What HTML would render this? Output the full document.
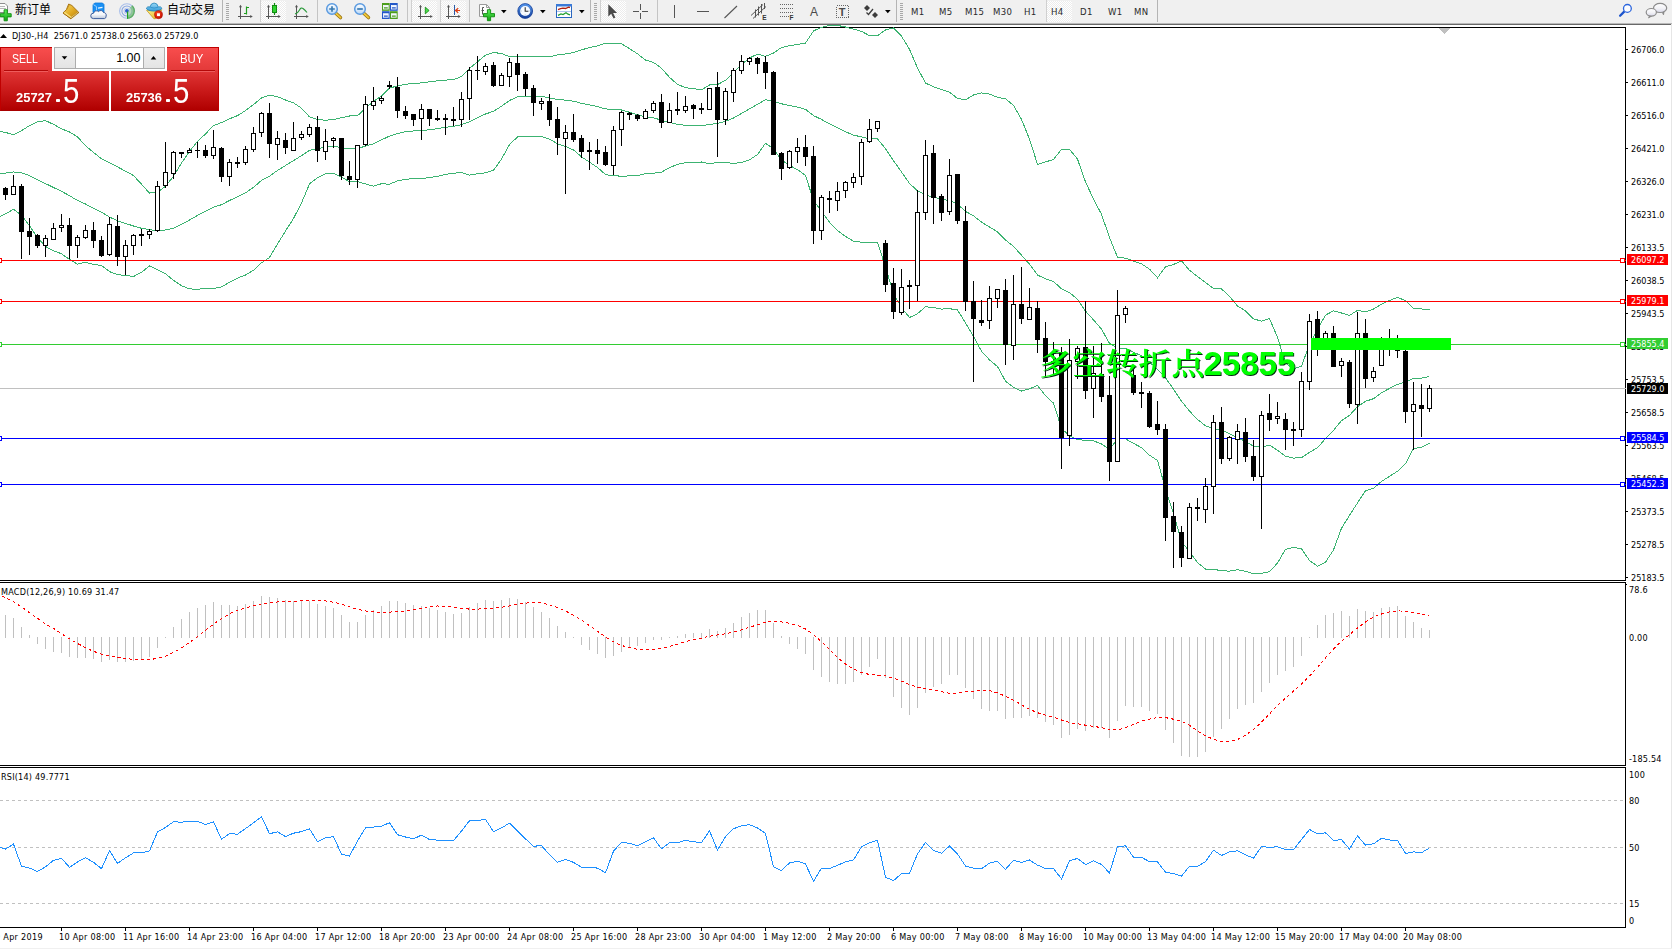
<!DOCTYPE html><html><head><meta charset="utf-8"><title>DJ30 H4</title><style>
html,body{margin:0;padding:0;background:#fff;}
body{width:1672px;height:949px;position:relative;overflow:hidden;font-family:"Liberation Sans","Noto Sans CJK SC",sans-serif;}
#tb{position:absolute;left:0;top:0;width:1672px;height:23px;background:#f0f0f0;}
#tbl1{position:absolute;left:0;top:23px;width:1672px;height:1px;background:#b9b9b9;}
#tbl2{position:absolute;left:0;top:24px;width:1671px;height:1px;background:#686868;}
.t{position:absolute;white-space:nowrap;line-height:1;}
.tf{position:absolute;top:6.5px;font-size:9.5px;color:#2a2a2a;white-space:nowrap;line-height:1;font-family:"DejaVu Sans Condensed","Liberation Sans",sans-serif;letter-spacing:.4px}
.cn{position:absolute;top:2px;font-size:12px;color:#000;white-space:nowrap;line-height:14px;font-family:"Noto Sans CJK SC","Liberation Sans",sans-serif;}
.sep{position:absolute;top:0px;width:1px;height:22px;background:#a0a0a0;}
.grip{position:absolute;top:3px;width:3px;height:17px;background:repeating-linear-gradient(#a8a8a8 0 1px,#f0f0f0 1px 2px);}
.hl{position:absolute;top:1px;height:21px;background:#f8f8f8;background-image:repeating-conic-gradient(#fff 0 25%,#ececec 0 50%);background-size:2px 2px;}
svg{position:absolute;left:0;top:0;}
.ax{font-size:9px;fill:#000;font-family:"DejaVu Sans Condensed","Liberation Sans",sans-serif;letter-spacing:.2px}
.pl{letter-spacing:0px}
#rb{position:absolute;left:1671px;top:24px;width:1px;height:925px;background:#e6e6e6;}
#bb{position:absolute;left:0;top:948px;width:1672px;height:1px;background:#f0f0f0;}

</style></head><body>
<div id="tb"></div><div id="tbl1"></div><div id="tbl2"></div><div id="rb"></div><div id="bb"></div>
<!-- toolbar text -->
<div class="cn" style="left:15px;">新订单</div>
<div class="cn" style="left:167px;">自动交易</div>
<div class="sep" style="left:222px;background:#b4b4b4"></div><div class="grip" style="left:226px"></div>
<div class="sep" style="left:260px;background:#d0d0d0"></div><div class="hl" style="left:261px;width:25px"></div>
<div class="sep" style="left:317px;background:#c4c4c4"></div>
<div class="sep" style="left:407px;background:#c4c4c4"></div>
<div class="sep" style="left:411px;background:#d0d0d0"></div><div class="hl" style="left:412px;width:25px"></div>
<div class="sep" style="left:440px;background:#d0d0d0"></div><div class="hl" style="left:441px;width:25px"></div>
<div class="sep" style="left:469px;background:#c4c4c4"></div>
<div class="sep" style="left:590px;background:#b4b4b4"></div><div class="grip" style="left:594px"></div>
<div class="sep" style="left:600px;background:#d0d0d0"></div><div class="hl" style="left:601px;width:25px"></div>
<div class="sep" style="left:657px;background:#c4c4c4"></div>
<div class="sep" style="left:896px;background:#b4b4b4"></div><div class="grip" style="left:900px"></div>
<div class="sep" style="left:1046px;background:#d0d0d0"></div><div class="hl" style="left:1047px;width:25px"></div>
<div class="sep" style="left:1157px;background:#b4b4b4"></div>
<div class="tf" style="left:911px">M1</div>
<div class="tf" style="left:939px">M5</div>
<div class="tf" style="left:965px">M15</div>
<div class="tf" style="left:993px">M30</div>
<div class="tf" style="left:1024px">H1</div>
<div class="tf" style="left:1051px">H4</div>
<div class="tf" style="left:1080px">D1</div>
<div class="tf" style="left:1108px">W1</div>
<div class="tf" style="left:1134px">MN</div>
<svg width="1672" height="25" viewBox="0 0 1672 25">
<defs>
<linearGradient id="gGold" x1="0" y1="0" x2="1" y2="1"><stop offset="0" stop-color="#f7dc6a"/><stop offset=".55" stop-color="#e0a820"/><stop offset="1" stop-color="#b07c10"/></linearGradient>
<linearGradient id="gLens" x1="0" y1="0" x2="0" y2="1"><stop offset="0" stop-color="#ffffff"/><stop offset="1" stop-color="#b8d8f8"/></linearGradient>
<linearGradient id="gClk" x1="0" y1="0" x2="0" y2="1"><stop offset="0" stop-color="#5a9cf0"/><stop offset="1" stop-color="#123c98"/></linearGradient>
<linearGradient id="gPlus" x1="0" y1="0" x2="0" y2="1"><stop offset="0" stop-color="#5cf05c"/><stop offset="1" stop-color="#10a010"/></linearGradient>
<linearGradient id="gHat" x1="0" y1="0" x2="0" y2="1"><stop offset="0" stop-color="#9ad8f6"/><stop offset="1" stop-color="#379cd8"/></linearGradient>
<linearGradient id="gCloud" x1="0" y1="0" x2="0" y2="1"><stop offset="0" stop-color="#ffffff"/><stop offset=".5" stop-color="#f4f6fa"/><stop offset="1" stop-color="#bcc8dc"/></linearGradient>
<linearGradient id="gBub" x1="0" y1="0" x2="0" y2="1"><stop offset="0" stop-color="#ffffff"/><stop offset=".55" stop-color="#f2f2f6"/><stop offset="1" stop-color="#d8d8ea"/></linearGradient>
<radialGradient id="gSig" cx="127" cy="11" r="8" gradientUnits="userSpaceOnUse"><stop offset="0" stop-color="#d8ecd8" stop-opacity=".7"/><stop offset=".6" stop-color="#8cc88c" stop-opacity=".85"/><stop offset="1" stop-color="#2a9a2a"/></radialGradient>
<linearGradient id="gFun" x1="0" y1="0" x2="1" y2="1"><stop offset="0" stop-color="#fdf08a"/><stop offset="1" stop-color="#e6b01c"/></linearGradient>
<radialGradient id="gRed" cx=".4" cy=".35" r=".7"><stop offset="0" stop-color="#ff4a20"/><stop offset="1" stop-color="#c40c00"/></radialGradient>
</defs>
<!-- new order -->
<g><path d="M-0.500 3.500h5.500l2.500 2.500v6.500h-8z" fill="#fdfdfd" stroke="#8e8e8e"/><path d="M0 6.500h5M0 8.500h6" stroke="#b8b8b8"/><path d="M4.400 10h3.200v3.900h3.900v3.200h-3.900v3.900h-3.200v-3.900h-3.900v-3.200h3.900z" transform="translate(-0.300,-0.200)" fill="url(#gPlus)" stroke="#0c8a0c" stroke-width=".9"/></g>
<!-- book -->
<g><path d="M68.700 4l3.200 1.500 6.900 6.900-7.900 6.300-7.900-5.800 3.400-3.200z" fill="url(#gGold)" stroke="#a06a08" stroke-width=".9"/><path d="M78.300 12.800l-7.300 5.600" stroke="#e8e0b0" stroke-width="1.600"/><path d="M78.800 12.400l-7.900 6.300-7.900-5.800" fill="none" stroke="#a06a08" stroke-width=".9"/><path d="M64.200 12.400l6.800 4.900" stroke="#f9e07a" stroke-width="1.300"/><path d="M69.200 5l-2.600 4.800" stroke="#c08a18" stroke-width=".8"/></g>
<!-- cloud server -->
<g><path d="M93 4.500l2-1.500h7.500l1.500 1.500v8h-11z" fill="#1a90f4" stroke="#0a78dc" stroke-width=".8"/><path d="M93.300 4.600l3.200 2v6" fill="none" stroke="#9fd4ff" stroke-width=".9"/><path d="M98 8.200l4.500-.9" stroke="#e8f6ff" stroke-width="1.200"/><path d="M93.300 18.600a2.700 2.700 0 0 1 .3-5.400a3 3 0 0 1 5-1.600a2.800 2.800 0 0 1 4.900 .9a2.700 2.700 0 0 1 2.600 3.600a2.300 2.300 0 0 1-1.600 2.500z" fill="url(#gCloud)" stroke="#3c5c9c" stroke-width="1"/></g>
<!-- signal -->
<g fill="none"><circle cx="126.900" cy="11" r="7.300" stroke="#a9bfea" stroke-width="1.100"/><circle cx="126.900" cy="11" r="5" stroke="#86a6e2" stroke-width="1.100"/><circle cx="126.900" cy="11" r="2.900" stroke="#b4c6ee" stroke-width=".9"/><path d="M127.200 11L132.300 5.200A7.800 7.800 0 0 1 127.200 18.800z" fill="url(#gSig)" stroke="none" opacity=".8"/><circle cx="126.900" cy="10.800" r="1.900" fill="#2a5ed0"/><path d="M127.600 11.500v7.300" stroke="#18a018" stroke-width="1.100"/></g>
<!-- autotrading -->
<g><path d="M146.600 10.300l15.200-.500-6.300 8.900h-1.600z" fill="url(#gFun)" stroke="#c89a1c" stroke-width=".8"/><path d="M146.300 8.200q1.200-2.200 3.700-1.200q.7-3.800 4.100-4q3.500.2 4.200 4q2.400-1 3.600 1.200q-1 2.700-7.800 2.900q-6.800-.2-7.800-2.900z" fill="url(#gHat)" stroke="#1f82b8" stroke-width=".8"/><path d="M150.300 7.300q3.800 1.500 7.700 0" fill="none" stroke="#2a8cc8" stroke-width=".8"/><circle cx="158.500" cy="14.700" r="4" fill="url(#gRed)" stroke="#a81000" stroke-width=".6"/><rect x="157.050" y="13.300" width="2.900" height="2.800" fill="#fff"/></g>
<!-- chart type icons -->
<g id="ax1" stroke="#555" fill="none" stroke-width="1"><path d="M240.500 5.500v13.500M238 16.500h12.500" shape-rendering="crispEdges"/><path d="M239 7.300l1.500-2.600 1.500 2.600zM250.200 15l2.600 1.500-2.600 1.500z" fill="#555" stroke="none"/></g>
<path d="M246.500 6.500v8M246.500 7.500h2.500M244 13.500h2.500" stroke="#1e9e1e" stroke-width="1.200" fill="none"/>
<g stroke="#555" fill="none" stroke-width="1"><path d="M268.500 5.500v13.500M266 16.500h12.500" shape-rendering="crispEdges"/><path d="M267 7.300l1.500-2.600 1.500 2.600zM278.200 15l2.600 1.500-2.600 1.500z" fill="#555" stroke="none"/></g>
<path d="M274.500 3v12" stroke="#148a14" stroke-width="1.200"/><rect x="272.500" y="5.500" width="4" height="7" fill="#2fd42f" stroke="#148a14"/>
<g stroke="#555" fill="none" stroke-width="1"><path d="M296.500 5.500v13.500M294 16.500h12.500" shape-rendering="crispEdges"/><path d="M295 7.300l1.500-2.600 1.500 2.600zM306.200 15l2.600 1.500-2.600 1.500z" fill="#555" stroke="none"/></g>
<path d="M295 14q3-1 4.500-4t3.500-1.500t4 4" stroke="#2a9a3a" stroke-width="1.100" fill="none"/>
<!-- zoom in/out -->
<g><path d="M335.500 13l5 4.600" stroke="#9a7410" stroke-width="3.400" stroke-linecap="round"/><path d="M335.500 13l5 4.600" stroke="#f0c83a" stroke-width="1.800" stroke-linecap="round"/><circle cx="332" cy="9" r="5.300" fill="url(#gLens)" stroke="#5a9ae0" stroke-width="1.500"/><path d="M329.200 9h5.600M332 6.200v5.600" stroke="#3a7ab0" stroke-width="1.700"/></g>
<g><path d="M363.500 13l5 4.600" stroke="#9a7410" stroke-width="3.400" stroke-linecap="round"/><path d="M363.500 13l5 4.600" stroke="#f0c83a" stroke-width="1.800" stroke-linecap="round"/><circle cx="360" cy="9" r="5.300" fill="url(#gLens)" stroke="#5a9ae0" stroke-width="1.500"/><path d="M357.200 9h5.600" stroke="#3a7ab0" stroke-width="1.700"/></g>
<!-- tile -->
<g><rect x="382" y="3" width="7.700" height="7.800" fill="#4c9e1c"/><rect x="390" y="3" width="7.700" height="7.800" fill="#2458c8"/><rect x="382" y="11.200" width="7.700" height="7.800" fill="#2458c8"/><rect x="390" y="11.200" width="7.700" height="7.800" fill="#4c9e1c"/><g fill="none" stroke="#f4f8ff" stroke-width=".9"><rect x="383.500" y="5.500" width="4.700" height="3.500"/><rect x="391.500" y="5.500" width="4.700" height="3.500"/><rect x="383.500" y="13.700" width="4.700" height="3.500"/><rect x="391.500" y="13.700" width="4.700" height="3.500"/></g><path d="M383.500 6.500h4.700M391.500 6.500h4.700M383.500 14.700h4.700M391.500 14.700h4.700" stroke="#f4f8ff" stroke-width="1.400"/></g>
<!-- auto scroll / shift -->
<g stroke="#555" fill="none" stroke-width="1"><path d="M420.500 5.500v13.500M418 16.500h12.500" shape-rendering="crispEdges"/><path d="M419 7.300l1.500-2.600 1.500 2.600zM430.200 15l2.600 1.500-2.600 1.500z" fill="#555" stroke="none"/></g>
<path d="M425.300 7.200l3.800 3.300-3.800 3.300z" fill="#4ade4a" stroke="#189018" stroke-width=".9"/>
<g stroke="#555" fill="none" stroke-width="1"><path d="M448.500 5.500v13.500M446 16.500h12.500" shape-rendering="crispEdges"/><path d="M447 7.300l1.500-2.600 1.500 2.600zM458.200 15l2.600 1.500-2.600 1.500z" fill="#555" stroke="none"/><path d="M454.500 5v10" stroke="#2a5aa8" shape-rendering="crispEdges"/></g>
<path d="M460 10.500h-4M458.200 8.300l-2.700 2.200 2.700 2.200" fill="none" stroke="#e03c10" stroke-width="1.100"/>
<!-- indicators -->
<g><path d="M479.500 4.500h7l3 3v9h-10z" fill="#fdfdfd" stroke="#9a9a9a"/><path d="M486.500 4.500v3h3" fill="none" stroke="#9a9a9a"/><path d="M482.500 7.500v7M482.500 7.500h1.500M481.500 10.500h2.500" stroke="#555" fill="none"/><path d="M4.400 10h3.200v3.900h3.900v3.200h-3.900v3.900h-3.200v-3.900h-3.900v-3.200h3.900z" transform="translate(483,-0.300)" fill="url(#gPlus)" stroke="#0c8a0c" stroke-width=".9"/><path d="M501 10h5.600l-2.800 3.200z" fill="#000"/></g>
<!-- clock -->
<g><circle cx="525.200" cy="11" r="7.400" fill="url(#gClk)" stroke="#123c98" stroke-width=".8"/><circle cx="525.200" cy="11" r="5.100" fill="#f7faff"/><path d="M525.200 7.300v4h3.200" stroke="#333" fill="none" stroke-width="1.100"/><path d="M525.200 14.500v1M521.700 11h-1M529.700 11h-1" stroke="#9ab" stroke-width=".8"/><path d="M540 10h5.600l-2.800 3.200z" fill="#000"/></g>
<!-- template -->
<g><rect x="556.500" y="4.500" width="15" height="13" fill="#fff" stroke="#2a66c0"/><rect x="556" y="4" width="16" height="2.500" fill="#3a7ad8"/><path d="M557 11.500h14" stroke="#9ab8e8" stroke-width=".8"/><path d="M558 9.700l2.500-1 2.500-.6 2.500.4 3-1.300 1.500.3" stroke="#b02010" fill="none" stroke-width="1.300"/><path d="M558 15.300l3-1.300 2 .6 3-1.800 2 1.400 2 .6" stroke="#20a030" fill="none" stroke-width="1.300"/><path d="M579 10h5.600l-2.800 3.200z" fill="#000"/></g>
<!-- cursor -->
<path d="M608.300 4.300v12.200l2.900-2.700 2.300 4.700 1.900-.9-2.300-4.600h4z" fill="#4a4a4a"/>
<path d="M640.500 4v6M640.500 13v6M633 11.500h6M642 11.500h6" stroke="#555" stroke-width="1" shape-rendering="crispEdges"/>
<path d="M674.500 5v13M697 11.500h12" stroke="#555" stroke-width="1" shape-rendering="crispEdges"/>
<path d="M724.500 18l12.500-12" stroke="#555" stroke-width="1.100"/>
<g stroke="#555" stroke-width="1" fill="none"><path d="M751 15.500l12-11M753 18.500l13-12M755.500 9.500v8M758.500 6.500v9M761.500 4v9.500M764.500 3v6"/></g>
<text x="762.200" y="20" font-size="6.500" font-weight="bold" fill="#333" font-family="Liberation Sans,sans-serif">E</text>
<g stroke="#666" stroke-width="1" stroke-dasharray="1 1" shape-rendering="crispEdges"><path d="M780 4.500h13M780 8.500h13M780 12.500h13M780 16.500h9"/></g>
<text x="789.500" y="20" font-size="6.500" font-weight="bold" fill="#333" font-family="Liberation Sans,sans-serif">F</text>
<text x="810" y="16" font-size="12" fill="#4a4a4a" font-family="Liberation Sans,sans-serif">A</text>
<rect x="836.500" y="5.500" width="12" height="12" fill="none" stroke="#666" stroke-dasharray="1 1" shape-rendering="crispEdges"/>
<text x="838.800" y="16" font-size="11" font-weight="bold" fill="#4a4a4a" font-family="Liberation Sans,sans-serif">T</text>
<g fill="#3c3c3c"><path d="M864 8l3-3 3 3-3 3z"/><path d="M872 15l3-3 3 3-3 3z"/><path d="M866.500 12.500l2 2 4.500-5.500" stroke="#3c3c3c" fill="none" stroke-width="1.300"/></g>
<path d="M885 10h5.600l-2.800 3.200z" fill="#000"/>
<!-- search -->
<g><path d="M1624.200 11.600l-4.100 4.100" stroke="#1c54cc" stroke-width="2.300" stroke-linecap="round"/><circle cx="1627.400" cy="8.400" r="3.900" fill="#fbfcff" stroke="#2a64dc" stroke-width="1.300"/></g>
<!-- chat -->
<g stroke="#8c8c8c" stroke-width="1.200"><path d="M1662.300 12.300l1.200 2.600.600-3.200z" fill="#777" stroke-width=".8"/><ellipse cx="1660.100" cy="7.900" rx="6.600" ry="4.600" fill="url(#gBub)"/><path d="M1649.800 15.300l-1.300 2.700 3.200-2z" fill="#777" stroke-width=".8"/><ellipse cx="1651.300" cy="12.300" rx="5.100" ry="3.800" fill="url(#gBub)"/></g>
</svg>

<svg width="1672" height="949" viewBox="0 0 1672 949">
<g shape-rendering="crispEdges" stroke="#000" stroke-width="1" fill="none">
<path d="M0 27.5H1626M1625.5 27V581M0 580.5H1626M0 582.5H1626M1625.5 582V766M0 765.5H1626M0 767.5H1626M1625.5 767V928M0 927.5H1626"/>
<path d="M1626 49.5H1628M1626 82.5H1628M1626 115.5H1628M1626 148.5H1628M1626 181.5H1628M1626 214.5H1628M1626 247.5H1628M1626 280.5H1628M1626 313.5H1628M1626 346.5H1628M1626 379.5H1628M1626 412.5H1628M1626 445.5H1628M1626 478.5H1628M1626 511.5H1628M1626 544.5H1628M1626 577.5H1628M1626 584.5H1627M61.5 928V931M125.5 928V931M189.5 928V931M253.5 928V931M317.5 928V931M381.5 928V931M445.5 928V931M509.5 928V931M573.5 928V931M637.5 928V931M701.5 928V931M765.5 928V931M829.5 928V931M893.5 928V931M957.5 928V931M1021.5 928V931M1085.5 928V931M1149.5 928V931M1213.5 928V931M1277.5 928V931M1341.5 928V931M1405.5 928V931"/>
</g>
<path shape-rendering="crispEdges" d="M0 388.5H1626" stroke="#c0c0c0" stroke-width="1"/>
<path shape-rendering="crispEdges" d="M0 800.5H1625" stroke="#c0c0c0" stroke-width="1" stroke-dasharray="3 3"/>
<path shape-rendering="crispEdges" d="M0 847.5H1625" stroke="#c0c0c0" stroke-width="1" stroke-dasharray="3 3"/>
<path shape-rendering="crispEdges" d="M0 903.5H1625" stroke="#c0c0c0" stroke-width="1" stroke-dasharray="3 3"/>
<path shape-rendering="crispEdges" d="M5.5 615V638M13.5 618V638M21.5 627V638M29.5 635V638M37.5 637V644M45.5 637V649M53.5 637V652M61.5 637V653M69.5 637V657M77.5 637V658M85.5 637V658M93.5 637V659M101.5 637V662M109.5 637V660M117.5 637V662M125.5 637V662M133.5 637V661M141.5 637V659M149.5 637V657M157.5 637V648M165.5 637V638M173.5 627V638M181.5 619V638M189.5 612V638M197.5 608V638M205.5 605V638M213.5 602V638M221.5 605V638M229.5 605V638M237.5 606V638M245.5 604V638M253.5 601V638M261.5 596V638M269.5 597V638M277.5 598V638M285.5 600V638M293.5 601V638M301.5 601V638M309.5 601V638M317.5 604V638M325.5 606V638M333.5 608V638M341.5 615V638M349.5 622V638M357.5 622V638M365.5 615V638M373.5 610V638M381.5 606V638M389.5 601V638M397.5 601V638M405.5 603V638M413.5 605V638M421.5 606V638M429.5 608V638M437.5 610V638M445.5 612V638M453.5 614V638M461.5 613V638M469.5 607V638M477.5 603V638M485.5 600V638M493.5 601V638M501.5 600V638M509.5 598V638M517.5 599V638M525.5 602V638M533.5 607V638M541.5 612V638M549.5 618V638M557.5 626V638M565.5 632V638M573.5 637V638M581.5 637V645M589.5 637V650M597.5 637V654M605.5 637V658M613.5 637V656M621.5 637V652M629.5 637V648M637.5 637V646M645.5 637V643M653.5 637V640M661.5 637V640M669.5 637V638M677.5 636V638M685.5 634V638M693.5 633V638M701.5 633V638M709.5 629V638M717.5 631V638M725.5 628V638M733.5 623V638M741.5 617V638M749.5 613V638M757.5 610V638M765.5 610V638M773.5 623V638M781.5 636V638M789.5 637V644M797.5 637V649M805.5 637V654M813.5 637V670M821.5 637V677M829.5 637V682M837.5 637V684M845.5 637V684M853.5 637V682M861.5 637V675M869.5 637V667M877.5 637V659M885.5 637V678M893.5 637V697M901.5 637V708M909.5 637V715M917.5 637V708M925.5 637V693M933.5 637V687M941.5 637V684M949.5 637V675M957.5 637V675M965.5 637V688M973.5 637V699M981.5 637V709M989.5 637V711M997.5 637V711M1005.5 637V719M1013.5 637V718M1021.5 637V718M1029.5 637V716M1037.5 637V718M1045.5 637V722M1053.5 637V725M1061.5 637V738M1069.5 637V735M1077.5 637V729M1085.5 637V731M1093.5 637V728M1101.5 637V728M1109.5 637V738M1117.5 637V721M1125.5 637V706M1133.5 637V707M1141.5 637V707M1149.5 637V711M1157.5 637V714M1165.5 637V730M1173.5 637V743M1181.5 637V756M1189.5 637V757M1197.5 637V757M1205.5 637V752M1213.5 637V737M1221.5 637V729M1229.5 637V719M1237.5 637V709M1245.5 637V705M1253.5 637V703M1261.5 637V692M1269.5 637V683M1277.5 637V675M1285.5 637V671M1293.5 637V667M1301.5 637V656M1309.5 637V638M1317.5 625V638M1325.5 615V638M1333.5 613V638M1341.5 611V638M1349.5 616V638M1357.5 609V638M1365.5 611V638M1373.5 612V638M1381.5 608V638M1389.5 607V638M1397.5 606V638M1405.5 616V638M1413.5 622V638M1421.5 628V638M1429.5 630V638" stroke="#c0c0c0" stroke-width="1"/>
<polyline points="-3.5,593.6 5.5,597.6 13.5,601.9 21.5,606.9 29.5,612.7 37.5,618.2 45.5,624.0 53.5,628.3 61.5,633.8 69.5,638.8 77.5,643.4 85.5,647.8 93.5,651.3 101.5,654.2 109.5,655.9 117.5,657.3 125.5,658.5 133.5,659.4 141.5,659.7 149.5,659.6 157.5,658.4 165.5,656.1 173.5,652.3 181.5,647.9 189.5,642.4 197.5,636.5 205.5,630.4 213.5,624.1 221.5,618.5 229.5,613.8 237.5,610.3 245.5,607.8 253.5,605.8 261.5,603.9 269.5,602.8 277.5,602.0 285.5,601.7 293.5,601.3 301.5,600.9 309.5,600.3 317.5,600.3 325.5,600.9 333.5,602.2 341.5,604.2 349.5,606.9 357.5,609.3 365.5,610.9 373.5,611.9 381.5,612.5 389.5,612.1 397.5,611.5 405.5,611.0 413.5,609.9 421.5,608.1 429.5,606.6 437.5,606.0 445.5,606.2 453.5,607.1 461.5,608.4 469.5,609.1 477.5,609.1 485.5,608.6 493.5,608.0 501.5,607.2 509.5,605.9 517.5,604.4 525.5,603.1 533.5,602.5 541.5,603.0 549.5,604.7 557.5,607.6 565.5,611.0 573.5,615.1 581.5,620.2 589.5,625.7 597.5,631.3 605.5,636.9 613.5,641.8 621.5,645.4 629.5,647.8 637.5,649.3 645.5,649.8 653.5,649.3 661.5,648.2 669.5,646.5 677.5,644.1 685.5,641.7 693.5,639.8 701.5,638.1 709.5,636.3 717.5,635.0 725.5,633.8 733.5,632.0 741.5,629.8 749.5,627.3 757.5,624.7 765.5,622.1 773.5,621.1 781.5,621.9 789.5,623.3 797.5,625.5 805.5,628.9 813.5,634.6 821.5,641.6 829.5,649.4 837.5,657.5 845.5,664.1 853.5,669.1 861.5,672.5 869.5,674.5 877.5,675.0 885.5,675.9 893.5,678.2 901.5,681.1 909.5,684.5 917.5,687.2 925.5,688.4 933.5,689.7 941.5,691.6 949.5,693.4 957.5,693.0 965.5,692.0 973.5,691.1 981.5,690.4 989.5,690.7 997.5,692.8 1005.5,696.3 1013.5,700.1 1021.5,704.8 1029.5,709.3 1037.5,712.7 1045.5,715.2 1053.5,717.0 1061.5,720.0 1069.5,722.6 1077.5,723.7 1085.5,725.2 1093.5,726.3 1101.5,727.7 1109.5,729.9 1117.5,729.8 1125.5,727.8 1133.5,724.3 1141.5,721.2 1149.5,719.2 1157.5,717.4 1165.5,717.6 1173.5,719.2 1181.5,721.2 1189.5,725.2 1197.5,730.9 1205.5,735.9 1213.5,739.3 1221.5,741.3 1229.5,741.8 1237.5,739.5 1245.5,735.3 1253.5,729.4 1261.5,722.2 1269.5,713.9 1277.5,705.4 1285.5,698.1 1293.5,691.1 1301.5,684.1 1309.5,676.2 1317.5,667.5 1325.5,657.8 1333.5,649.1 1341.5,641.2 1349.5,634.7 1357.5,627.9 1365.5,621.9 1373.5,617.1 1381.5,614.0 1389.5,611.9 1397.5,610.9 1405.5,611.2 1413.5,612.5 1421.5,613.9 1429.5,616.2" fill="none" stroke="#ff0000" stroke-width="1" stroke-dasharray="3 3" shape-rendering="crispEdges"/>
<polyline points="-3.5,846.5 5.5,849.0 13.5,844.1 21.5,866.3 29.5,868.1 37.5,871.5 45.5,866.8 53.5,860.3 61.5,858.4 69.5,867.3 77.5,862.0 85.5,857.6 93.5,862.3 101.5,868.7 109.5,850.6 117.5,863.3 125.5,857.8 133.5,852.9 141.5,852.9 149.5,850.9 157.5,832.0 165.5,827.5 173.5,821.7 181.5,822.2 189.5,821.3 197.5,821.3 205.5,824.6 213.5,821.7 221.5,839.3 229.5,833.6 237.5,834.2 245.5,828.6 253.5,822.9 261.5,816.8 269.5,833.7 277.5,831.9 285.5,836.6 293.5,833.2 301.5,831.6 309.5,828.9 317.5,841.7 325.5,837.9 333.5,836.6 341.5,854.3 349.5,856.0 357.5,841.1 365.5,827.9 373.5,827.1 381.5,826.2 389.5,822.7 397.5,834.7 405.5,837.0 413.5,838.9 421.5,835.1 429.5,839.6 437.5,840.1 445.5,840.1 453.5,840.7 461.5,831.1 469.5,820.7 477.5,820.7 485.5,819.3 493.5,831.8 501.5,827.9 509.5,823.1 517.5,830.8 525.5,838.9 533.5,846.2 541.5,845.7 549.5,854.7 557.5,862.3 565.5,859.4 573.5,862.4 581.5,867.3 589.5,867.3 597.5,868.1 605.5,872.7 613.5,851.1 621.5,842.3 629.5,843.4 637.5,845.6 645.5,841.9 653.5,837.9 661.5,848.8 669.5,842.6 677.5,842.6 685.5,840.4 693.5,841.8 701.5,842.5 709.5,830.9 717.5,850.0 725.5,836.7 733.5,828.8 741.5,825.7 749.5,824.7 757.5,827.9 765.5,833.5 773.5,866.9 781.5,870.6 789.5,862.9 797.5,861.2 805.5,864.0 813.5,881.3 821.5,868.1 829.5,868.5 837.5,865.4 845.5,861.8 853.5,859.8 861.5,846.9 869.5,842.8 877.5,840.2 885.5,877.2 893.5,880.7 901.5,873.6 909.5,873.3 917.5,853.9 925.5,842.5 933.5,850.6 941.5,853.2 949.5,846.0 957.5,854.1 965.5,866.0 973.5,868.2 981.5,868.7 989.5,863.2 997.5,861.2 1005.5,869.3 1013.5,860.3 1021.5,862.5 1029.5,860.0 1037.5,865.1 1045.5,868.5 1053.5,868.6 1061.5,878.8 1069.5,860.9 1077.5,858.4 1085.5,864.6 1093.5,860.9 1101.5,864.4 1109.5,873.0 1117.5,846.8 1125.5,845.8 1133.5,857.3 1141.5,857.4 1149.5,861.6 1157.5,862.0 1165.5,872.1 1173.5,873.6 1181.5,876.2 1189.5,866.1 1197.5,866.2 1205.5,861.8 1213.5,850.1 1221.5,855.5 1229.5,851.8 1237.5,850.8 1245.5,854.9 1253.5,858.1 1261.5,846.6 1269.5,847.3 1277.5,846.8 1285.5,849.4 1293.5,849.6 1301.5,839.5 1309.5,829.5 1317.5,833.9 1325.5,832.8 1333.5,840.6 1341.5,839.6 1349.5,849.0 1357.5,835.9 1365.5,845.1 1373.5,843.8 1381.5,838.4 1389.5,840.0 1397.5,840.4 1405.5,853.4 1413.5,851.9 1421.5,852.7 1429.5,847.9" fill="none" stroke="#1e90ff" stroke-width="1" shape-rendering="crispEdges"/>
<polyline points="-3.5,130.4 5.5,132.5 13.5,134.6 21.5,130.6 29.5,125.7 37.5,121.8 45.5,120.7 53.5,124.3 61.5,128.8 69.5,132.0 77.5,136.9 85.5,145.7 93.5,152.5 101.5,158.7 109.5,162.6 117.5,166.8 125.5,171.3 133.5,175.5 141.5,184.2 149.5,193.1 157.5,192.3 165.5,186.3 173.5,176.2 181.5,163.1 189.5,151.3 197.5,141.5 205.5,133.9 213.5,125.6 221.5,122.6 229.5,118.8 237.5,115.6 245.5,110.6 253.5,104.6 261.5,97.9 269.5,95.1 277.5,96.7 285.5,100.0 293.5,102.8 301.5,108.2 309.5,116.9 317.5,119.6 325.5,120.2 333.5,119.5 341.5,117.7 349.5,116.0 357.5,115.7 365.5,108.3 373.5,101.4 381.5,96.1 389.5,88.0 397.5,86.0 405.5,84.3 413.5,83.4 421.5,82.9 429.5,81.8 437.5,80.8 445.5,80.1 453.5,79.5 461.5,76.6 469.5,68.4 477.5,61.8 485.5,55.1 493.5,52.4 501.5,53.6 509.5,56.5 517.5,56.9 525.5,56.1 533.5,56.1 541.5,56.2 549.5,56.8 557.5,54.9 565.5,53.9 573.5,52.5 581.5,49.8 589.5,47.7 597.5,45.8 605.5,43.2 613.5,43.1 621.5,43.9 629.5,48.6 637.5,53.8 645.5,60.1 653.5,62.4 661.5,68.2 669.5,77.4 677.5,84.3 685.5,87.7 693.5,88.7 701.5,89.9 709.5,85.0 717.5,84.5 725.5,80.4 733.5,72.5 741.5,64.6 749.5,57.9 757.5,54.2 765.5,56.3 773.5,53.0 781.5,47.5 789.5,45.7 797.5,44.5 805.5,43.1 813.5,30.9 821.5,27.4 829.5,25.5 837.5,25.4 845.5,27.0 853.5,29.1 861.5,31.4 869.5,35.6 877.5,35.8 885.5,29.9 893.5,27.8 901.5,36.2 909.5,49.2 917.5,67.9 925.5,83.1 933.5,86.8 941.5,89.5 949.5,92.3 957.5,98.4 965.5,99.9 973.5,95.0 981.5,92.9 989.5,94.1 997.5,97.3 1005.5,98.8 1013.5,105.4 1021.5,119.3 1029.5,139.2 1037.5,164.4 1045.5,161.9 1053.5,159.6 1061.5,149.2 1069.5,149.4 1077.5,159.1 1085.5,181.9 1093.5,199.0 1101.5,214.3 1109.5,237.5 1117.5,257.2 1125.5,258.2 1133.5,261.0 1141.5,263.9 1149.5,269.1 1157.5,277.8 1165.5,266.7 1173.5,264.5 1181.5,260.8 1189.5,270.3 1197.5,276.5 1205.5,282.5 1213.5,288.4 1221.5,288.9 1229.5,296.3 1237.5,306.0 1245.5,310.9 1253.5,318.9 1261.5,321.1 1269.5,318.6 1277.5,337.4 1285.5,363.1 1293.5,368.8 1301.5,366.3 1309.5,344.1 1317.5,329.5 1325.5,315.1 1333.5,310.9 1341.5,313.0 1349.5,315.4 1357.5,310.4 1365.5,311.8 1373.5,309.0 1381.5,304.3 1389.5,300.5 1397.5,297.4 1405.5,300.6 1413.5,308.5 1421.5,308.9 1429.5,309.8" fill="none" stroke="#3cb371" stroke-width="1" shape-rendering="crispEdges"/>
<polyline points="-3.5,174.2 5.5,173.1 13.5,172.0 21.5,172.8 29.5,175.7 37.5,179.7 45.5,183.6 53.5,187.5 61.5,191.3 69.5,195.7 77.5,200.5 85.5,204.0 93.5,208.4 101.5,212.1 109.5,217.1 117.5,220.7 125.5,223.4 133.5,226.0 141.5,228.3 149.5,229.5 157.5,231.1 165.5,230.0 173.5,228.3 181.5,224.4 189.5,220.1 197.5,215.4 205.5,211.2 213.5,207.1 221.5,204.7 229.5,200.5 237.5,196.9 245.5,192.8 253.5,187.4 261.5,180.4 269.5,176.3 277.5,170.4 285.5,165.5 293.5,160.7 301.5,155.6 309.5,150.4 317.5,148.6 325.5,147.1 333.5,146.3 341.5,147.5 349.5,148.9 357.5,148.6 365.5,146.1 373.5,143.8 381.5,139.9 389.5,136.1 397.5,133.5 405.5,131.7 413.5,131.0 421.5,130.9 429.5,129.6 437.5,128.7 445.5,127.3 453.5,126.3 461.5,124.6 469.5,121.7 477.5,117.8 485.5,114.0 493.5,111.3 501.5,106.3 509.5,100.5 517.5,96.9 525.5,96.1 533.5,96.2 541.5,96.3 549.5,98.0 557.5,99.4 565.5,100.2 573.5,101.2 581.5,103.3 589.5,104.9 597.5,106.6 605.5,108.9 613.5,109.4 621.5,110.0 629.5,112.3 637.5,114.6 645.5,116.9 653.5,117.8 661.5,120.2 669.5,122.5 677.5,124.4 685.5,125.3 693.5,125.5 701.5,126.0 709.5,124.4 717.5,123.5 725.5,121.4 733.5,118.0 741.5,113.5 749.5,108.9 757.5,104.3 765.5,99.7 773.5,101.0 781.5,103.8 789.5,105.6 797.5,107.1 805.5,109.3 813.5,115.6 821.5,119.4 829.5,123.9 837.5,127.9 845.5,131.7 853.5,135.2 861.5,136.8 869.5,138.9 877.5,139.0 885.5,148.6 893.5,160.7 901.5,172.0 909.5,183.4 917.5,190.8 925.5,195.0 933.5,197.1 941.5,199.3 949.5,200.5 957.5,204.1 965.5,211.4 973.5,215.8 981.5,222.1 989.5,227.0 997.5,231.9 1005.5,240.0 1013.5,246.4 1021.5,255.2 1029.5,264.1 1037.5,275.0 1045.5,278.8 1053.5,281.4 1061.5,288.9 1069.5,292.6 1077.5,299.3 1085.5,311.1 1093.5,319.9 1101.5,329.1 1109.5,343.4 1117.5,348.1 1125.5,348.5 1133.5,352.2 1141.5,355.8 1149.5,362.1 1157.5,369.2 1165.5,377.8 1173.5,389.1 1181.5,401.1 1189.5,411.1 1197.5,419.5 1205.5,425.8 1213.5,428.8 1221.5,429.9 1229.5,433.7 1237.5,437.9 1245.5,441.2 1253.5,446.3 1261.5,447.3 1269.5,445.2 1277.5,450.2 1285.5,456.3 1293.5,458.1 1301.5,457.6 1309.5,452.3 1317.5,447.8 1325.5,438.6 1333.5,430.4 1341.5,420.6 1349.5,415.4 1357.5,406.6 1365.5,401.3 1373.5,398.7 1381.5,392.8 1389.5,388.4 1397.5,384.4 1405.5,382.1 1413.5,378.5 1421.5,378.2 1429.5,376.6" fill="none" stroke="#3cb371" stroke-width="1" shape-rendering="crispEdges"/>
<polyline points="-3.5,218.0 5.5,213.7 13.5,209.4 21.5,215.0 29.5,225.7 37.5,237.6 45.5,246.5 53.5,250.7 61.5,253.8 69.5,259.4 77.5,264.1 85.5,262.3 93.5,264.3 101.5,265.5 109.5,271.6 117.5,274.6 125.5,275.5 133.5,276.5 141.5,272.4 149.5,265.9 157.5,269.9 165.5,273.7 173.5,280.4 181.5,285.7 189.5,288.9 197.5,289.2 205.5,288.5 213.5,288.7 221.5,286.8 229.5,282.3 237.5,278.1 245.5,275.0 253.5,270.3 261.5,262.8 269.5,257.5 277.5,244.1 285.5,231.0 293.5,218.5 301.5,203.0 309.5,183.9 317.5,177.6 325.5,173.9 333.5,173.2 341.5,177.2 349.5,181.8 357.5,181.6 365.5,183.9 373.5,186.2 381.5,183.7 389.5,184.2 397.5,180.9 405.5,179.2 413.5,178.7 421.5,178.8 429.5,177.4 437.5,176.5 445.5,174.4 453.5,173.2 461.5,172.6 469.5,175.1 477.5,173.7 485.5,172.9 493.5,170.3 501.5,159.1 509.5,144.5 517.5,137.0 525.5,136.2 533.5,136.3 541.5,136.5 549.5,139.2 557.5,143.8 565.5,146.5 573.5,149.9 581.5,156.8 589.5,162.2 597.5,167.5 605.5,174.6 613.5,175.7 621.5,176.2 629.5,175.9 637.5,175.5 645.5,173.7 653.5,173.2 661.5,172.1 669.5,167.7 677.5,164.4 685.5,162.8 693.5,162.4 701.5,162.0 709.5,163.8 717.5,162.5 725.5,162.5 733.5,163.5 741.5,162.4 749.5,159.8 757.5,154.5 765.5,143.2 773.5,148.9 781.5,160.0 789.5,165.5 797.5,169.6 805.5,175.5 813.5,200.4 821.5,211.4 829.5,222.2 837.5,230.4 845.5,236.4 853.5,241.2 861.5,242.2 869.5,242.1 877.5,242.1 885.5,267.3 893.5,293.5 901.5,307.7 909.5,317.5 917.5,313.7 925.5,306.8 933.5,307.4 941.5,309.1 949.5,308.7 957.5,309.9 965.5,322.9 973.5,336.6 981.5,351.2 989.5,359.9 997.5,366.5 1005.5,381.2 1013.5,387.3 1021.5,391.0 1029.5,388.9 1037.5,385.5 1045.5,395.7 1053.5,403.1 1061.5,428.5 1069.5,435.7 1077.5,439.6 1085.5,440.3 1093.5,440.8 1101.5,443.9 1109.5,449.3 1117.5,439.1 1125.5,438.8 1133.5,443.4 1141.5,447.6 1149.5,455.2 1157.5,460.5 1165.5,488.9 1173.5,513.8 1181.5,541.4 1189.5,551.9 1197.5,562.6 1205.5,569.1 1213.5,569.2 1221.5,570.8 1229.5,571.1 1237.5,569.7 1245.5,571.4 1253.5,573.7 1261.5,573.4 1269.5,571.7 1277.5,563.0 1285.5,549.4 1293.5,547.5 1301.5,548.8 1309.5,560.5 1317.5,566.2 1325.5,562.2 1333.5,549.9 1341.5,528.2 1349.5,515.4 1357.5,502.9 1365.5,490.7 1373.5,488.4 1381.5,481.4 1389.5,476.3 1397.5,471.3 1405.5,463.6 1413.5,448.5 1421.5,447.4 1429.5,443.4" fill="none" stroke="#3cb371" stroke-width="1" shape-rendering="crispEdges"/>
<path shape-rendering="crispEdges" d="M0 260.5H1626" stroke="#ff0000" stroke-width="1"/>
<path shape-rendering="crispEdges" d="M0 301.5H1626" stroke="#ff0000" stroke-width="1"/>
<path shape-rendering="crispEdges" d="M0 344.5H1626" stroke="#32cd32" stroke-width="1"/>
<path shape-rendering="crispEdges" d="M0 438.5H1626" stroke="#0000ff" stroke-width="1"/>
<path shape-rendering="crispEdges" d="M0 484.5H1626" stroke="#0000ff" stroke-width="1"/>
<g shape-rendering="crispEdges">
<path d="M5.5 187V188M5.5 195V200M13.5 175V186M21.5 184V186M21.5 232V259M29.5 218V231M29.5 237V255M37.5 234V235M37.5 246V248M45.5 235V238M45.5 246V257M53.5 223V228M61.5 214V225M61.5 228V232M69.5 218V225M69.5 246V259M77.5 235V237M77.5 246V258M85.5 225V230M85.5 238V239M93.5 222V230M93.5 241V248M101.5 236V240M101.5 256V257M109.5 217V224M109.5 255V256M117.5 215V226M117.5 257V266M125.5 240V245M125.5 257V275M133.5 234V235M133.5 246V255M141.5 229V234M141.5 236V246M149.5 229V231M149.5 235V239M157.5 181V186M157.5 231V232M165.5 142V172M165.5 186V188M173.5 151V152M173.5 174V179M181.5 154V158M189.5 148V150M197.5 142V150M197.5 151V158M205.5 145V150M205.5 156V158M213.5 130V147M213.5 156V159M221.5 147V148M221.5 177V182M229.5 159V162M229.5 177V186M237.5 157V162M237.5 164V168M245.5 146V149M245.5 163V165M253.5 127V133M253.5 150V152M261.5 112V113M261.5 133V137M269.5 103V113M269.5 144V158M277.5 131V138M277.5 145V160M285.5 133V140M285.5 148V154M293.5 122V138M301.5 131V134M301.5 138V140M309.5 124V127M309.5 135V137M317.5 116V127M317.5 151V162M325.5 129V141M325.5 152V160M333.5 137V138M333.5 141V148M341.5 176V180M349.5 161V176M349.5 180V185M357.5 180V188M365.5 96V104M365.5 145V146M373.5 87V101M373.5 106V110M381.5 96V98M381.5 101V104M389.5 81V85M389.5 87V89M397.5 77V87M397.5 111V118M405.5 106V111M405.5 116V119M413.5 120V126M421.5 104V109M421.5 119V140M429.5 119V126M437.5 110V118M437.5 120V121M445.5 114V118M445.5 120V135M453.5 107V119M453.5 121V126M461.5 92V99M461.5 120V127M469.5 67V70M469.5 99V120M477.5 56V70M477.5 71V80M485.5 63V66M485.5 72V75M493.5 62V65M493.5 86V87M501.5 73V75M509.5 58V62M509.5 77V87M517.5 54V63M517.5 75V91M525.5 72V74M525.5 89V96M533.5 85V88M533.5 103V116M541.5 98V101M541.5 104V110M549.5 94V101M549.5 120V126M557.5 107V119M557.5 138V155M565.5 125V132M565.5 139V194M573.5 114V132M573.5 140V142M581.5 135V138M581.5 152V158M589.5 142V150M589.5 152V170M597.5 139V150M597.5 154V164M605.5 146V152M605.5 165V166M613.5 126V130M613.5 166V175M621.5 111V112M621.5 130V146M629.5 112V113M629.5 115V120M637.5 114V115M637.5 119V121M645.5 109V111M653.5 101V103M653.5 111V113M661.5 94V102M661.5 123V128M669.5 103V110M677.5 92V109M677.5 111V115M685.5 96V106M685.5 111V113M693.5 104V105M693.5 109V119M701.5 103V108M701.5 110V114M717.5 72V87M717.5 120V157M725.5 88V91M725.5 120V125M733.5 68V70M733.5 93V102M741.5 55V61M741.5 71V74M749.5 57V58M749.5 62V65M757.5 57V58M757.5 64V74M765.5 56V62M765.5 73V89M773.5 71V72M781.5 152V153M781.5 169V180M789.5 150V151M789.5 168V169M797.5 138V147M797.5 152V163M805.5 135V147M805.5 157V166M813.5 146V156M813.5 231V244M821.5 195V197M821.5 231V240M829.5 191V198M829.5 200V213M837.5 182V191M837.5 201V211M845.5 181V182M845.5 191V198M853.5 173V177M853.5 183V188M861.5 139V142M861.5 177V185M869.5 119V129M869.5 142V143M877.5 129V132M885.5 240V243M885.5 285V292M893.5 268V283M893.5 312V319M901.5 269V287M901.5 313V315M909.5 280V285M909.5 287V309M917.5 190V212M917.5 286V301M925.5 140V155M925.5 213V220M933.5 145V153M933.5 198V224M941.5 194V196M941.5 213V221M949.5 159V175M949.5 212V215M957.5 221V224M965.5 206V221M965.5 302V311M973.5 281V301M973.5 319V382M981.5 300V320M981.5 323V326M989.5 286V298M989.5 321V329M997.5 299V308M1005.5 279V290M1005.5 345V365M1013.5 275V304M1013.5 346V360M1021.5 267V304M1021.5 319V324M1029.5 288V307M1037.5 301V308M1037.5 340V353M1045.5 322V338M1045.5 362V377M1053.5 342V361M1053.5 363V376M1061.5 347V352M1061.5 438V469M1069.5 339V360M1069.5 436V446M1077.5 346V348M1077.5 362V379M1085.5 301V347M1085.5 391V399M1093.5 346V373M1093.5 389V418M1101.5 343V374M1101.5 397V402M1109.5 376V395M1109.5 462V481M1117.5 290V315M1125.5 306V308M1125.5 315V323M1133.5 369V375M1133.5 393V395M1141.5 382V392M1141.5 394V408M1149.5 391V393M1149.5 427V428M1157.5 401V424M1157.5 430V435M1165.5 424V429M1165.5 518V541M1173.5 502V516M1173.5 532V568M1181.5 526V532M1181.5 558V567M1189.5 503V507M1197.5 498V507M1197.5 509V521M1205.5 478V486M1205.5 510V523M1213.5 415V422M1213.5 487V514M1221.5 407V422M1221.5 459V464M1229.5 436V437M1229.5 459V461M1237.5 424V431M1237.5 440V464M1245.5 418V432M1245.5 457V462M1253.5 440V456M1253.5 477V481M1261.5 411V415M1261.5 477V529M1269.5 394V413M1269.5 420V431M1277.5 402V416M1277.5 419V424M1285.5 413V419M1285.5 430V450M1293.5 422V429M1293.5 431V446M1301.5 372V381M1301.5 430V437M1309.5 314V321M1309.5 382V390M1317.5 311V319M1317.5 341V356M1325.5 331V333M1325.5 345V348M1333.5 326V333M1341.5 358V361M1341.5 366V377M1349.5 360V362M1349.5 404V408M1357.5 312V333M1357.5 405V424M1365.5 319V333M1365.5 379V388M1373.5 367V371M1373.5 378V382M1381.5 337V341M1389.5 329V343M1389.5 349V356M1397.5 335V349M1397.5 351V358M1405.5 350V351M1405.5 412V423M1413.5 382V404M1413.5 412V450M1421.5 384V405M1421.5 409V437M1429.5 385V388M1429.5 409V412" stroke="#000" stroke-width="1" fill="none"/>
<path d="M3 188h5v7h-5zM19 186h5v46h-5zM27 231h5v6h-5zM35 235h5v11h-5zM67 225h5v21h-5zM91 230h5v11h-5zM99 240h5v16h-5zM115 226h5v31h-5zM139 234h5v2h-5zM179 152h5v2h-5zM195 150h5v1h-5zM203 150h5v6h-5zM219 148h5v29h-5zM235 162h5v2h-5zM267 113h5v31h-5zM283 140h5v8h-5zM315 127h5v24h-5zM339 138h5v38h-5zM347 176h5v4h-5zM387 85h5v2h-5zM395 87h5v24h-5zM403 111h5v5h-5zM411 114h5v6h-5zM427 109h5v10h-5zM435 118h5v2h-5zM443 118h5v2h-5zM451 119h5v2h-5zM475 70h5v1h-5zM491 65h5v21h-5zM515 63h5v12h-5zM523 74h5v15h-5zM531 88h5v15h-5zM547 101h5v19h-5zM555 119h5v19h-5zM571 132h5v8h-5zM579 138h5v14h-5zM587 150h5v2h-5zM595 150h5v4h-5zM603 152h5v13h-5zM627 113h5v2h-5zM635 115h5v4h-5zM659 102h5v21h-5zM675 109h5v2h-5zM691 105h5v4h-5zM699 108h5v2h-5zM715 87h5v33h-5zM755 58h5v6h-5zM763 62h5v11h-5zM771 72h5v83h-5zM779 153h5v16h-5zM803 147h5v10h-5zM811 156h5v75h-5zM827 198h5v2h-5zM883 243h5v42h-5zM891 283h5v29h-5zM907 285h5v2h-5zM931 153h5v45h-5zM939 196h5v17h-5zM955 174h5v47h-5zM963 221h5v81h-5zM971 301h5v18h-5zM979 320h5v3h-5zM1003 290h5v55h-5zM1019 304h5v15h-5zM1035 308h5v32h-5zM1043 338h5v24h-5zM1051 361h5v2h-5zM1059 352h5v86h-5zM1083 347h5v44h-5zM1099 374h5v23h-5zM1107 395h5v67h-5zM1131 375h5v18h-5zM1139 392h5v2h-5zM1147 393h5v34h-5zM1155 424h5v6h-5zM1163 429h5v89h-5zM1171 516h5v16h-5zM1179 532h5v26h-5zM1195 507h5v2h-5zM1219 422h5v37h-5zM1243 432h5v25h-5zM1251 456h5v21h-5zM1267 413h5v7h-5zM1283 419h5v11h-5zM1291 429h5v2h-5zM1315 319h5v22h-5zM1331 333h5v34h-5zM1347 362h5v42h-5zM1363 333h5v46h-5zM1387 343h5v6h-5zM1395 349h5v2h-5zM1403 351h5v61h-5zM1419 405h5v4h-5z" fill="#000"/>
<path d="M11.5 186.5h4v8h-4zM43.5 238.5h4v7h-4zM51.5 228.5h4v11h-4zM59.5 225.5h4v2h-4zM75.5 237.5h4v8h-4zM83.5 230.5h4v7h-4zM107.5 224.5h4v30h-4zM123.5 245.5h4v11h-4zM131.5 235.5h4v10h-4zM147.5 231.5h4v3h-4zM155.5 186.5h4v44h-4zM163.5 172.5h4v13h-4zM171.5 152.5h4v21h-4zM187.5 150.5h4v2h-4zM211.5 147.5h4v8h-4zM227.5 162.5h4v14h-4zM243.5 149.5h4v13h-4zM251.5 133.5h4v16h-4zM259.5 113.5h4v19h-4zM275.5 138.5h4v6h-4zM291.5 138.5h4v12h-4zM299.5 134.5h4v3h-4zM307.5 127.5h4v7h-4zM323.5 141.5h4v10h-4zM331.5 138.5h4v2h-4zM355.5 145.5h4v34h-4zM363.5 104.5h4v40h-4zM371.5 101.5h4v4h-4zM379.5 98.5h4v2h-4zM419.5 109.5h4v9h-4zM459.5 99.5h4v20h-4zM467.5 70.5h4v28h-4zM483.5 66.5h4v5h-4zM499.5 75.5h4v10h-4zM507.5 62.5h4v14h-4zM539.5 101.5h4v2h-4zM563.5 132.5h4v6h-4zM611.5 130.5h4v35h-4zM619.5 112.5h4v17h-4zM643.5 111.5h4v7h-4zM651.5 103.5h4v7h-4zM667.5 110.5h4v12h-4zM683.5 106.5h4v4h-4zM707.5 88.5h4v21h-4zM723.5 91.5h4v28h-4zM731.5 70.5h4v22h-4zM739.5 61.5h4v9h-4zM747.5 58.5h4v3h-4zM787.5 151.5h4v16h-4zM795.5 147.5h4v4h-4zM819.5 197.5h4v33h-4zM835.5 191.5h4v9h-4zM843.5 182.5h4v8h-4zM851.5 177.5h4v5h-4zM859.5 142.5h4v34h-4zM867.5 129.5h4v12h-4zM875.5 121.5h4v7h-4zM899.5 287.5h4v25h-4zM915.5 212.5h4v73h-4zM923.5 155.5h4v57h-4zM947.5 175.5h4v36h-4zM987.5 298.5h4v22h-4zM995.5 289.5h4v9h-4zM1011.5 304.5h4v41h-4zM1027.5 307.5h4v12h-4zM1067.5 360.5h4v75h-4zM1075.5 348.5h4v13h-4zM1091.5 373.5h4v15h-4zM1115.5 315.5h4v146h-4zM1123.5 308.5h4v6h-4zM1187.5 507.5h4v51h-4zM1203.5 486.5h4v23h-4zM1211.5 422.5h4v64h-4zM1227.5 437.5h4v21h-4zM1235.5 431.5h4v8h-4zM1259.5 415.5h4v61h-4zM1275.5 416.5h4v2h-4zM1299.5 381.5h4v48h-4zM1307.5 321.5h4v60h-4zM1323.5 333.5h4v11h-4zM1339.5 361.5h4v4h-4zM1355.5 333.5h4v71h-4zM1371.5 371.5h4v6h-4zM1379.5 341.5h4v24h-4zM1411.5 404.5h4v7h-4zM1427.5 388.5h4v20h-4z" fill="#fff" stroke="#000" stroke-width="1"/>
<rect x="1311" y="338" width="140" height="12" fill="#00ff00"/>
<rect x="-2.5" y="258.5" width="4" height="4" fill="#fff" stroke="#ff0000"/>
<rect x="1620.5" y="258.5" width="4" height="4" fill="#fff" stroke="#ff0000"/>
<rect x="-2.5" y="299.5" width="4" height="4" fill="#fff" stroke="#ff0000"/>
<rect x="1620.5" y="299.5" width="4" height="4" fill="#fff" stroke="#ff0000"/>
<rect x="-2.5" y="342.5" width="4" height="4" fill="#fff" stroke="#32cd32"/>
<rect x="1620.5" y="342.5" width="4" height="4" fill="#fff" stroke="#32cd32"/>
<rect x="-2.5" y="436.5" width="4" height="4" fill="#fff" stroke="#0000ff"/>
<rect x="1620.5" y="436.5" width="4" height="4" fill="#fff" stroke="#0000ff"/>
<rect x="-2.5" y="482.5" width="4" height="4" fill="#fff" stroke="#0000ff"/>
<rect x="1620.5" y="482.5" width="4" height="4" fill="#fff" stroke="#0000ff"/>
<path d="M1439 28h11l-5.5 6z" fill="#c0c0c0"/>
<path d="M0 38h7l-3.500-4z" fill="#000" shape-rendering="auto"/>
</g>
<text class="ax pl" x="1631" y="53">26706.0</text>
<text class="ax pl" x="1631" y="86">26611.0</text>
<text class="ax pl" x="1631" y="119">26516.0</text>
<text class="ax pl" x="1631" y="152">26421.0</text>
<text class="ax pl" x="1631" y="185">26326.0</text>
<text class="ax pl" x="1631" y="218">26231.0</text>
<text class="ax pl" x="1631" y="251">26133.5</text>
<text class="ax pl" x="1631" y="284">26038.5</text>
<text class="ax pl" x="1631" y="317">25943.5</text>
<text class="ax pl" x="1631" y="350">25848.5</text>
<text class="ax pl" x="1631" y="383">25753.5</text>
<text class="ax pl" x="1631" y="416">25658.5</text>
<text class="ax pl" x="1631" y="449">25563.5</text>
<text class="ax pl" x="1631" y="482">25468.5</text>
<text class="ax pl" x="1631" y="515">25373.5</text>
<text class="ax pl" x="1631" y="548">25278.5</text>
<text class="ax pl" x="1631" y="581">25183.5</text>
<rect shape-rendering="crispEdges" x="1627" y="254" width="41" height="11" fill="#ff0000"/>
<text class="ax pl" x="1631" y="263" fill="#fff" style="fill:#fff">26097.2</text>
<rect shape-rendering="crispEdges" x="1627" y="295" width="41" height="11" fill="#ff0000"/>
<text class="ax pl" x="1631" y="304" fill="#fff" style="fill:#fff">25979.1</text>
<rect shape-rendering="crispEdges" x="1627" y="338" width="41" height="11" fill="#32cd32"/>
<text class="ax pl" x="1631" y="347" fill="#fff" style="fill:#fff">25855.4</text>
<rect shape-rendering="crispEdges" x="1627" y="432" width="41" height="11" fill="#0000ff"/>
<text class="ax pl" x="1631" y="441" fill="#fff" style="fill:#fff">25584.5</text>
<rect shape-rendering="crispEdges" x="1627" y="478" width="41" height="11" fill="#0000ff"/>
<text class="ax pl" x="1631" y="487" fill="#fff" style="fill:#fff">25452.3</text>
<rect shape-rendering="crispEdges" x="1627" y="383" width="41" height="11" fill="#000"/>
<text class="ax pl" x="1631" y="392" style="fill:#fff">25729.0</text>
<text class="ax" x="1629" y="593">78.6</text>
<text class="ax" x="1629" y="641">0.00</text>
<text class="ax" x="1629" y="762">-185.54</text>
<text class="ax" x="1629" y="778">100</text>
<text class="ax" x="1629" y="804">80</text>
<text class="ax" x="1629" y="851">50</text>
<text class="ax" x="1629" y="907">15</text>
<text class="ax" x="1629" y="924">0</text>
<text class="ax" x="1" y="595" style="letter-spacing:.22px">MACD(12,26,9) 10.69 31.47</text>
<text class="ax" x="1" y="780">RSI(14) 49.7771</text>
<text class="ax" x="12" y="39" style="letter-spacing:.1px">DJ30-,H4&#160; 25671.0 25738.0 25663.0 25729.0</text>
<text class="ax" x="-5" y="940" style="letter-spacing:.3px">9 Apr 2019</text>
<text class="ax" x="59" y="940" style="letter-spacing:.3px">10 Apr 08:00</text>
<text class="ax" x="123" y="940" style="letter-spacing:.3px">11 Apr 16:00</text>
<text class="ax" x="187" y="940" style="letter-spacing:.3px">14 Apr 23:00</text>
<text class="ax" x="251" y="940" style="letter-spacing:.3px">16 Apr 04:00</text>
<text class="ax" x="315" y="940" style="letter-spacing:.3px">17 Apr 12:00</text>
<text class="ax" x="379" y="940" style="letter-spacing:.3px">18 Apr 20:00</text>
<text class="ax" x="443" y="940" style="letter-spacing:.3px">23 Apr 00:00</text>
<text class="ax" x="507" y="940" style="letter-spacing:.3px">24 Apr 08:00</text>
<text class="ax" x="571" y="940" style="letter-spacing:.3px">25 Apr 16:00</text>
<text class="ax" x="635" y="940" style="letter-spacing:.3px">28 Apr 23:00</text>
<text class="ax" x="699" y="940" style="letter-spacing:.3px">30 Apr 04:00</text>
<text class="ax" x="763" y="940" style="letter-spacing:.3px">1 May 12:00</text>
<text class="ax" x="827" y="940" style="letter-spacing:.3px">2 May 20:00</text>
<text class="ax" x="891" y="940" style="letter-spacing:.3px">6 May 00:00</text>
<text class="ax" x="955" y="940" style="letter-spacing:.3px">7 May 08:00</text>
<text class="ax" x="1019" y="940" style="letter-spacing:.3px">8 May 16:00</text>
<text class="ax" x="1083" y="940" style="letter-spacing:.3px">10 May 00:00</text>
<text class="ax" x="1147" y="940" style="letter-spacing:.3px">13 May 04:00</text>
<text class="ax" x="1211" y="940" style="letter-spacing:.3px">14 May 12:00</text>
<text class="ax" x="1275" y="940" style="letter-spacing:.3px">15 May 20:00</text>
<text class="ax" x="1339" y="940" style="letter-spacing:.3px">17 May 04:00</text>
<text class="ax" x="1403" y="940" style="letter-spacing:.3px">20 May 08:00</text>
<g filter="url(#sh)" style="font-family:'Liberation Sans','Noto Serif CJK SC',serif;font-size:33px;fill:#00ff00;"><text x="1039.500" y="0" transform="translate(0,374) scale(1,0.91)" style="font-weight:600">多空转折点</text><text x="1203.500" y="374.500" style="font-weight:bold">25855</text></g>
<defs><filter id="sh" x="-5%" y="-20%" width="110%" height="140%"><feOffset in="SourceAlpha" dx="1.2" dy="1.2" result="o"/><feFlood flood-color="#002a10"/><feComposite in2="o" operator="in" result="s"/><feMerge><feMergeNode in="s"/><feMergeNode in="SourceGraphic"/></feMerge></filter></defs>
</svg>
<div id="panel" style="position:absolute;left:0;top:47px;width:219px;height:64px;font-family:'Liberation Sans',sans-serif;">
 <div style="position:absolute;left:0;top:0;width:52px;height:25px;background:linear-gradient(#f84d4d,#e23838);border-top:1px solid #c00000;border-left:1px solid #c00000;box-sizing:border-box;"></div>
 <div style="position:absolute;left:167px;top:0;width:52px;height:25px;background:linear-gradient(#f84d4d,#e23838);border-top:1px solid #c00000;border-right:1px solid #c00000;box-sizing:border-box;"></div>
 <div style="position:absolute;left:0;top:24px;width:109px;height:40px;background:linear-gradient(#e03636,#cc1c1c 45%,#b00000);border-left:1px solid #c00000;border-bottom:1px solid #a80000;box-sizing:border-box;"></div>
 <div style="position:absolute;left:111px;top:24px;width:108px;height:40px;background:linear-gradient(#e03636,#cc1c1c 45%,#b00000);border-right:1px solid #c00000;border-bottom:1px solid #a80000;box-sizing:border-box;"></div>
 <div style="position:absolute;left:4px;top:23px;width:44px;height:1px;background:#b40808;"></div>
 <div style="position:absolute;left:4px;top:24px;width:44px;height:1px;background:#ee5c5c;"></div>
 <div style="position:absolute;left:171px;top:23px;width:44px;height:1px;background:#b40808;"></div>
 <div style="position:absolute;left:171px;top:24px;width:44px;height:1px;background:#ee5c5c;"></div>
 <div style="position:absolute;left:52px;top:0;width:115px;height:24px;background:#fff;"></div>
 <div style="position:absolute;left:54px;top:0;width:111px;height:22px;background:#fff;border:1px solid #adadad;box-sizing:border-box;"></div>
 <div style="position:absolute;left:55px;top:1px;width:21px;height:20px;background:linear-gradient(#f0f0f0,#e4e4e4);border-right:1px solid #adadad;box-sizing:border-box;"></div>
 <div style="position:absolute;left:143px;top:1px;width:21px;height:20px;background:linear-gradient(#f0f0f0,#e4e4e4);border-left:1px solid #adadad;box-sizing:border-box;"></div>
 <svg width="219" height="64" style="left:0;top:0"><path d="M61.700 9.200h5.600l-2.800 3.400z" fill="#000"/><path d="M150.700 12.400h5.600l-2.800-3.400z" fill="#000"/></svg>
 <div class="t" style="left:100px;top:5px;width:40.5px;text-align:right;font-size:12.5px;color:#000;">1.00</div>
 <div class="t" style="left:12px;top:6px;font-size:12px;color:#fff;transform:scaleX(.88);transform-origin:0 0;">SELL</div>
 <div class="t" style="left:180px;top:6px;font-size:12px;color:#fff;transform:scaleX(.95);transform-origin:0 0;">BUY</div>
 <div class="t" style="left:16px;top:45px;font-size:12px;font-weight:bold;color:#fff;transform:scaleX(1.08);transform-origin:0 0;">25727</div>
 <div class="t" style="left:126px;top:45px;font-size:12px;font-weight:bold;color:#fff;transform:scaleX(1.08);transform-origin:0 0;">25736</div>
 <div class="t" style="left:62.600px;top:25.500px;font-size:35px;color:#fff;transform:scaleX(.84);transform-origin:0 0;">5</div>
 <div class="t" style="left:172.600px;top:25.500px;font-size:35px;color:#fff;transform:scaleX(.84);transform-origin:0 0;">5</div>
 <div style="position:absolute;left:55.500px;top:52px;width:4.200px;height:3.400px;background:#fff;border-radius:.8px"></div>
 <div style="position:absolute;left:165.500px;top:52px;width:4.200px;height:3.400px;background:#fff;border-radius:.8px"></div>
</div>

</body></html>
